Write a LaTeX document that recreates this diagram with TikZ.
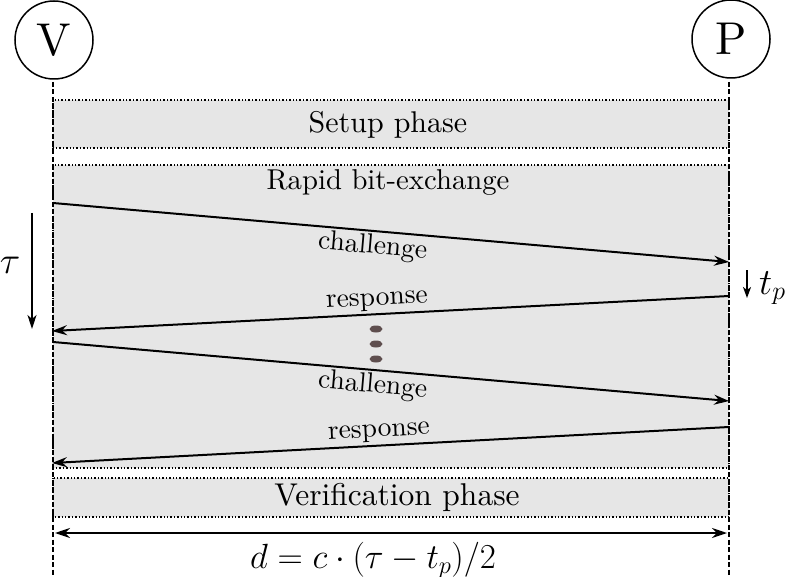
\RequirePackage{fix-cm}
\documentclass[tikz,border=0pt]{standalone}
\usepackage{fontspec}
\setmainfont{lmroman10-regular.otf}
\usetikzlibrary{arrows.meta}
\definecolor{boxgray}{HTML}{E6E6E6}
\definecolor{dotcol}{HTML}{5E4E4E}
\begin{document}
\begin{tikzpicture}[x=1pt,y=-1pt,
  party/.style={circle,draw,line width=1.5pt,minimum size=78pt,inner sep=0pt,font=\fontsize{46}{50}\selectfont},
  phasebox/.style={draw,dotted,line width=1.4pt,fill=boxgray},
  phasetext/.style={inner sep=0pt,anchor=base},
  lifeline/.style={line width=2pt,dash pattern=on 5pt off 2.5pt},
  msg/.style={line width=2pt,-{Stealth[length=15pt,width=10pt,inset=5pt]}},
  lbl/.style={font=\fontsize{27.5}{30}\selectfont,inner sep=2.5pt,sloped},
  timearrow/.style={line width=1.5pt,-{Stealth[length=14pt,width=9pt,inset=4pt]}},
  mathlbl/.style={inner sep=0pt,anchor=base}
]
\useasboundingbox (0,0) rectangle (789,577);

% parties
\node[party] (V) at (54,40) {V};
\node[party] (P) at (731,39) {P};

% phase boxes
\draw[phasebox] (53,100) rectangle (729,148);
\draw[phasebox] (53,165) rectangle (729,468);
\draw[phasebox] (53,478) rectangle (729,517);
\node[phasetext,font=\fontsize{30}{34}\selectfont] (setup) at (388,133) {Setup phase};
\node[phasetext,font=\fontsize{28.7}{34}\selectfont] (rapid) at (388,190) {Rapid bit-exchange};
\node[phasetext,font=\fontsize{31.5}{34}\selectfont] (verif) at (397,505) {Verification phase};

% lifelines
\coordinate (Vtop) at (53,82);
\coordinate (Vbot) at (53,577);
\coordinate (Ptop) at (729,82);
\coordinate (Pbot) at (729,577);
\draw[lifeline] (Vtop) -- (Vbot);
\draw[lifeline] (Ptop) -- (Pbot);

% messages
\coordinate (v1) at (53,203);
\coordinate (p1) at (729,262);
\coordinate (p2) at (729,296);
\coordinate (v2) at (52,331);
\coordinate (v3) at (53,342);
\coordinate (p3) at (729,401);
\coordinate (p4) at (729,427);
\coordinate (v4) at (52,463);
\draw[msg] (v1) -- node[lbl,pos=0.475,below] (c1) {challenge} (p1);
\draw[msg] (p2) -- node[lbl,pos=0.519,above] (r1) {response} (v2);
\draw[msg] (v3) -- node[lbl,pos=0.475,below] (c2) {challenge} (p3);
\draw[msg] (p4) -- node[lbl,pos=0.516,above] (r2) {response} (v4);

% dots
\fill[dotcol] (376,329) ellipse [x radius=6.5pt,y radius=3.5pt];
\fill[dotcol] (376,344) ellipse [x radius=6.5pt,y radius=3.5pt];
\fill[dotcol] (376,359) ellipse [x radius=6.5pt,y radius=3.5pt];

% tau
\coordinate (tauA) at (32,213);
\coordinate (tauB) at (32,329);
\draw[timearrow] (tauA) -- (tauB);
\node[mathlbl,font=\fontsize{38}{42}\selectfont] (tau) at (10,273) {$\tau$};

% t_p
\coordinate (tpA) at (747,270);
\coordinate (tpB) at (747,298);
\draw[timearrow,-{Stealth[length=11pt,width=8pt,inset=3pt]}] (tpA) -- (tpB);
\node[mathlbl,anchor=base west,font=\fontsize{37}{40}\selectfont] (tp) at (759,294) {$t_p$};

% distance
\coordinate (dL) at (55,533);
\coordinate (dR) at (727,533);
\draw[line width=2pt,{Stealth[length=15pt,width=10pt,inset=5pt]}-{Stealth[length=15pt,width=10pt,inset=5pt]}] (dL) -- (dR);
\node[mathlbl,font=\fontsize{35}{40}\selectfont] (dist) at (373,568) {$d=c\cdot(\tau-t_p)/2$};
\end{tikzpicture}
\end{document}
